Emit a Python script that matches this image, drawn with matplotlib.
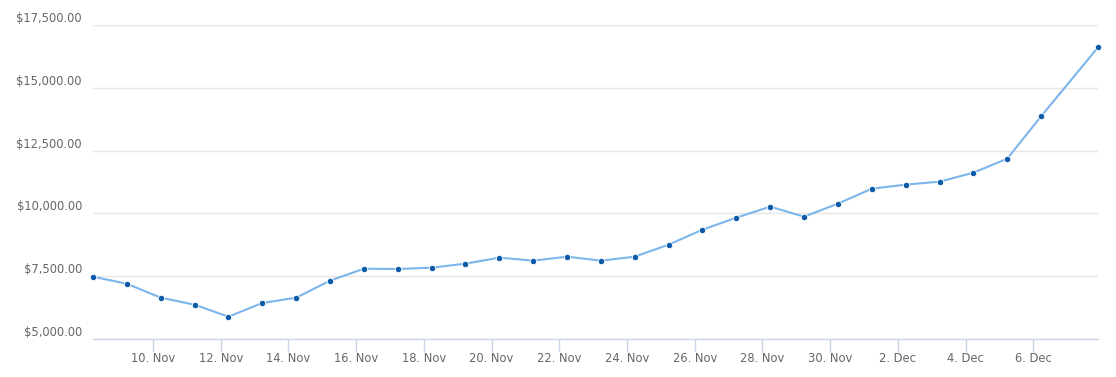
import pandas as pd
import matplotlib
matplotlib.use('Agg')
import matplotlib.pyplot as plt
from matplotlib.ticker import FuncFormatter

# daily closes, last point is the intraday price
dates = list(pd.date_range('2017-11-08 05:30', '2017-12-06 05:30', freq='D')) + [pd.Timestamp('2017-12-07 21:50')]
prices = [7480, 7200, 6644, 6366, 5888, 6433, 6644, 7321, 7799, 7787,
          7840, 7999, 8238, 8118, 8278, 8118, 8278, 8755, 9352, 9830,
          10268, 9870, 10387, 10984, 11144, 11263, 11621, 12178, 13865, 16612]

tick_dates = pd.date_range('2017-11-10', '2017-12-06', freq='2D')
tick_labels = ['10. Nov', '12. Nov', '14. Nov', '16. Nov', '18. Nov', '20. Nov', '22. Nov',
               '24. Nov', '26. Nov', '28. Nov', '30. Nov', '2. Dec', '4. Dec', '6. Dec']
y_ticks = [5000, 7500, 10000, 12500, 15000, 17500]

fig = plt.figure(figsize=(11.16, 3.77), dpi=100)
ax = fig.add_axes([93 / 1116, 38 / 377, (1098 - 93) / 1116, (339 - 25) / 377])

ax.plot(dates, prices, color='#7cb5ec', lw=1.5, zorder=3,
        marker='o', markersize=4.6, markerfacecolor='#0b5ba8',
        markeredgecolor='white', markeredgewidth=0.6, clip_on=False)

ax.set_xlim(dates[0], dates[-1])
ax.set_ylim(5000, 17500)

ax.set_yticks(y_ticks)
ax.yaxis.set_major_formatter(FuncFormatter(lambda v, p: '${:,.2f}'.format(v)))
ax.set_xticks(tick_dates)
ax.set_xticklabels(tick_labels)

ax.grid(axis='y', color='#e6e6e6', lw=1)
ax.set_axisbelow(True)
for s in ['top', 'right', 'left']:
    ax.spines[s].set_visible(False)
ax.spines['bottom'].set_color('#ccd6eb')
ax.spines['bottom'].set_linewidth(1)

ax.tick_params(axis='y', length=0, pad=8, labelsize=8.3, labelcolor='#666666')
ax.tick_params(axis='x', length=9, width=1, color='#ccd6eb', pad=0,
               labelsize=8.3, labelcolor='#666666')
for lbl in ax.get_yticklabels():
    lbl.set_verticalalignment('bottom')

plt.savefig('out.png', dpi=100)
